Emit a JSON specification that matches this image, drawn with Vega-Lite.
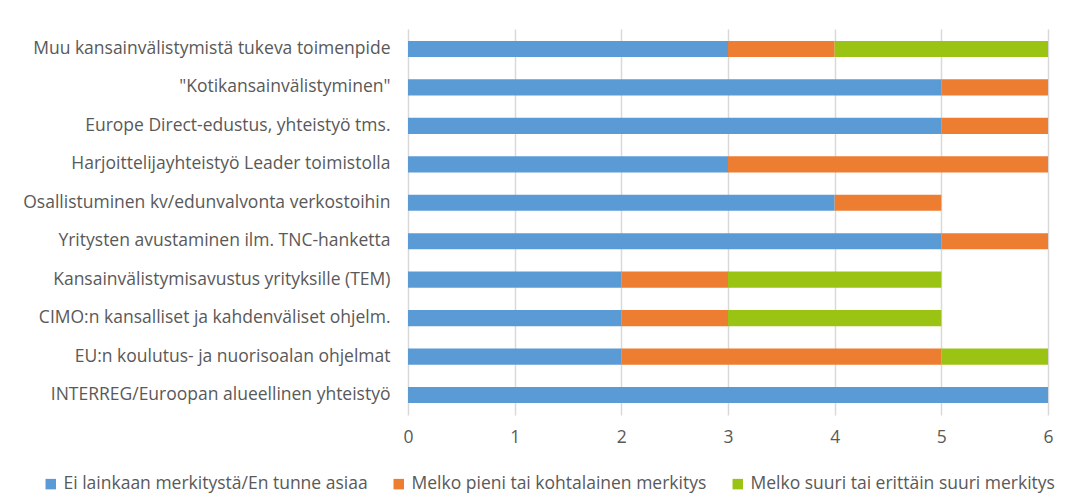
{
  "$schema": "https://vega.github.io/schema/vega-lite/v6.json",
  "width": 640,
  "height": 386,
  "autosize": {"type": "none"},
  "padding": {"left": 408, "top": 29, "right": 27, "bottom": 84},
  "background": "white",
  "config": {
    "view": {"stroke": null},
    "font": "Open Sans"
  },
  "data": {
    "values": [
      {"kohde": "Muu kansainvälistymistä tukeva toimenpide", "luokka": "Ei lainkaan merkitystä/En tunne asiaa", "jarj": 1, "arvo": 3},
      {"kohde": "Muu kansainvälistymistä tukeva toimenpide", "luokka": "Melko pieni tai kohtalainen merkitys", "jarj": 2, "arvo": 1},
      {"kohde": "Muu kansainvälistymistä tukeva toimenpide", "luokka": "Melko suuri tai erittäin suuri merkitys", "jarj": 3, "arvo": 2},
      {"kohde": "\"Kotikansainvälistyminen\"", "luokka": "Ei lainkaan merkitystä/En tunne asiaa", "jarj": 1, "arvo": 5},
      {"kohde": "\"Kotikansainvälistyminen\"", "luokka": "Melko pieni tai kohtalainen merkitys", "jarj": 2, "arvo": 1},
      {"kohde": "Europe Direct-edustus, yhteistyö tms.", "luokka": "Ei lainkaan merkitystä/En tunne asiaa", "jarj": 1, "arvo": 5},
      {"kohde": "Europe Direct-edustus, yhteistyö tms.", "luokka": "Melko pieni tai kohtalainen merkitys", "jarj": 2, "arvo": 1},
      {"kohde": "Harjoittelijayhteistyö Leader toimistolla", "luokka": "Ei lainkaan merkitystä/En tunne asiaa", "jarj": 1, "arvo": 3},
      {"kohde": "Harjoittelijayhteistyö Leader toimistolla", "luokka": "Melko pieni tai kohtalainen merkitys", "jarj": 2, "arvo": 3},
      {"kohde": "Osallistuminen kv/edunvalvonta verkostoihin", "luokka": "Ei lainkaan merkitystä/En tunne asiaa", "jarj": 1, "arvo": 4},
      {"kohde": "Osallistuminen kv/edunvalvonta verkostoihin", "luokka": "Melko pieni tai kohtalainen merkitys", "jarj": 2, "arvo": 1},
      {"kohde": "Yritysten avustaminen ilm. TNC-hanketta", "luokka": "Ei lainkaan merkitystä/En tunne asiaa", "jarj": 1, "arvo": 5},
      {"kohde": "Yritysten avustaminen ilm. TNC-hanketta", "luokka": "Melko pieni tai kohtalainen merkitys", "jarj": 2, "arvo": 1},
      {"kohde": "Kansainvälistymisavustus yrityksille (TEM)", "luokka": "Ei lainkaan merkitystä/En tunne asiaa", "jarj": 1, "arvo": 2},
      {"kohde": "Kansainvälistymisavustus yrityksille (TEM)", "luokka": "Melko pieni tai kohtalainen merkitys", "jarj": 2, "arvo": 1},
      {"kohde": "Kansainvälistymisavustus yrityksille (TEM)", "luokka": "Melko suuri tai erittäin suuri merkitys", "jarj": 3, "arvo": 2},
      {"kohde": "CIMO:n kansalliset ja kahdenväliset ohjelm.", "luokka": "Ei lainkaan merkitystä/En tunne asiaa", "jarj": 1, "arvo": 2},
      {"kohde": "CIMO:n kansalliset ja kahdenväliset ohjelm.", "luokka": "Melko pieni tai kohtalainen merkitys", "jarj": 2, "arvo": 1},
      {"kohde": "CIMO:n kansalliset ja kahdenväliset ohjelm.", "luokka": "Melko suuri tai erittäin suuri merkitys", "jarj": 3, "arvo": 2},
      {"kohde": "EU:n koulutus- ja nuorisoalan ohjelmat", "luokka": "Ei lainkaan merkitystä/En tunne asiaa", "jarj": 1, "arvo": 2},
      {"kohde": "EU:n koulutus- ja nuorisoalan ohjelmat", "luokka": "Melko pieni tai kohtalainen merkitys", "jarj": 2, "arvo": 3},
      {"kohde": "EU:n koulutus- ja nuorisoalan ohjelmat", "luokka": "Melko suuri tai erittäin suuri merkitys", "jarj": 3, "arvo": 1},
      {"kohde": "INTERREG/Euroopan alueellinen yhteistyö", "luokka": "Ei lainkaan merkitystä/En tunne asiaa", "jarj": 1, "arvo": 6}
    ]
  },
  "mark": {"type": "bar"},
  "encoding": {
    "y": {
      "field": "kohde",
      "type": "nominal",
      "sort": null,
      "scale": {"paddingInner": 0.58, "paddingOuter": 0.31},
      "axis": {"title": null, "domain": false, "ticks": false, "labelPadding": 18, "labelLimit": 0, "grid": false, "labelFont": "Open Sans", "labelFontSize": 17.5, "labelColor": "#595959"}
    },
    "x": {
      "field": "arvo",
      "type": "quantitative",
      "stack": "zero",
      "scale": {"domain": [0, 6], "nice": false},
      "axis": {"title": null, "domain": false, "ticks": false, "values": [0, 1, 2, 3, 4, 5, 6], "labelPadding": 13, "grid": true, "gridColor": "#d9d9d9", "gridWidth": 1.5, "labelFlush": false, "labelOverlap": false, "labelFont": "Open Sans", "labelFontSize": 17.5, "labelColor": "#595959"}
    },
    "color": {
      "field": "luokka",
      "type": "nominal",
      "sort": ["Ei lainkaan merkitystä/En tunne asiaa", "Melko pieni tai kohtalainen merkitys", "Melko suuri tai erittäin suuri merkitys"],
      "scale": {
        "domain": ["Ei lainkaan merkitystä/En tunne asiaa", "Melko pieni tai kohtalainen merkitys", "Melko suuri tai erittäin suuri merkitys"],
        "range": ["#5b9bd5", "#ed7d31", "#9bc313"]
      },
      "legend": {
        "title": null,
        "orient": "none",
        "direction": "horizontal",
        "legendX": -366,
        "legendY": 446,
        "symbolType": "square",
        "symbolSize": 110,
        "symbolStrokeWidth": 0,
        "labelOffset": 4,
        "columnPadding": 22,
        "labelLimit": 0,
        "labelFont": "Open Sans",
        "labelFontSize": 17.5,
        "labelColor": "#595959"
      }
    },
    "order": {"field": "jarj", "type": "quantitative"}
  }
}
